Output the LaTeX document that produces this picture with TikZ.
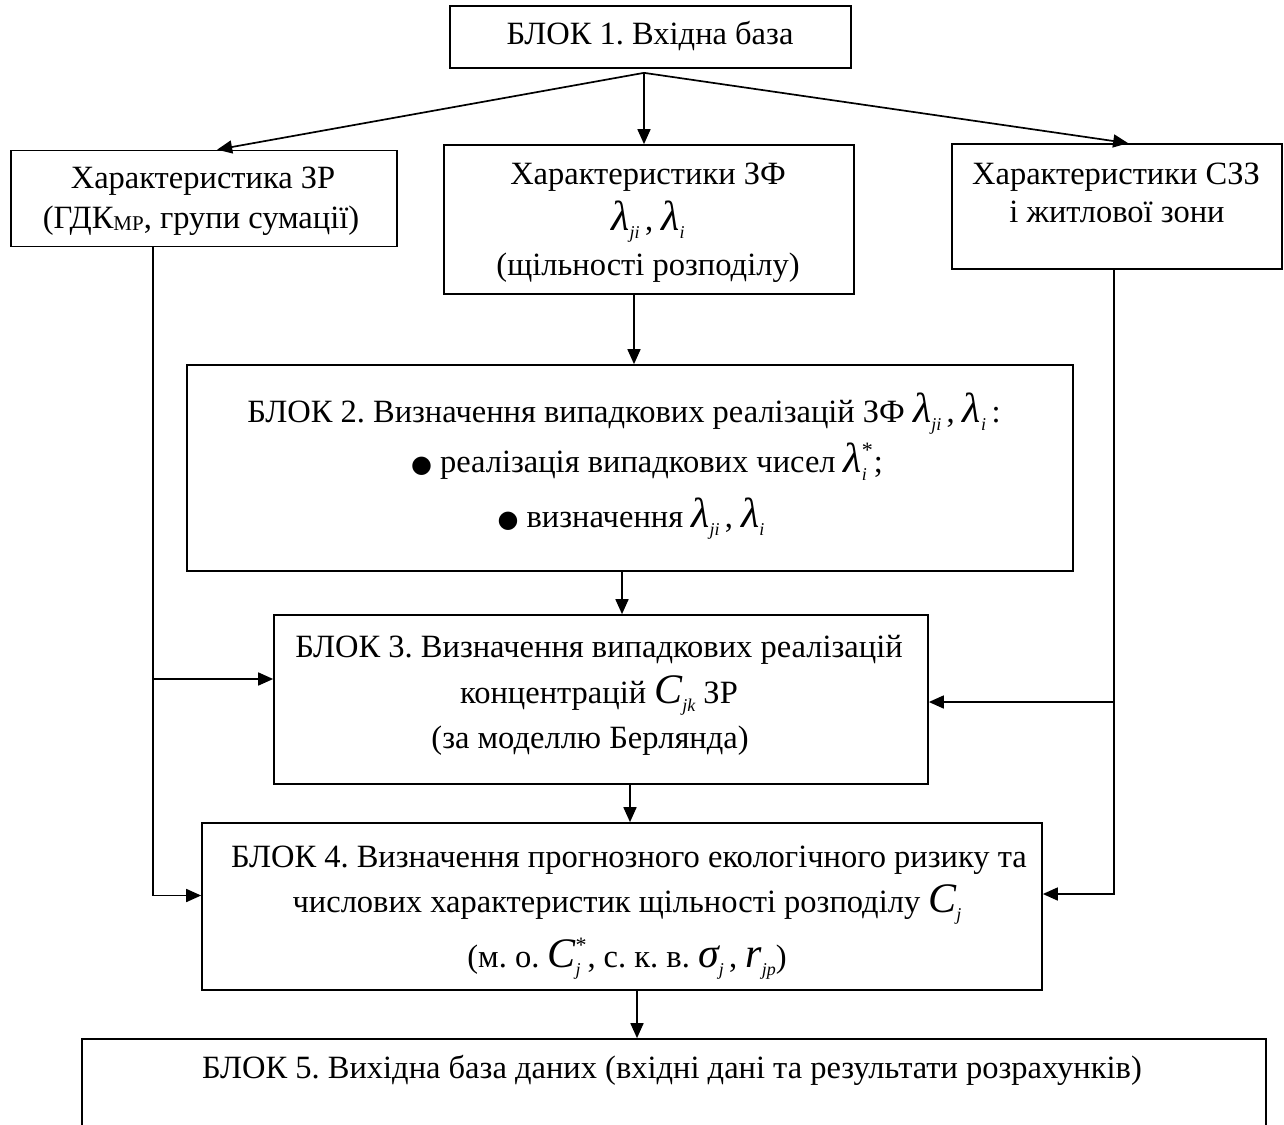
\documentclass[tikz,border=0pt]{standalone}
\usepackage{fontspec}
\setmainfont{Liberation Serif}
\newfontfamily\djfont{DejaVu Sans}
\usetikzlibrary{arrows.meta,calc}
\newcommand\fs{\fontsize{32.5}{38}\selectfont\frenchspacing}
\newcommand\gsym[1]{{\fontsize{42}{42}\selectfont\itshape #1}}
\newcommand\isub[1]{\raisebox{-8pt}{\fontsize{18}{18}\selectfont\itshape #1}}
\newcommand\ssub[2]{\makebox[0pt][l]{\raisebox{15pt}{\fontsize{22}{22}\selectfont #1}}\raisebox{-8pt}{\fontsize{18}{18}\selectfont\itshape #2}\hspace{7pt}}
\newcommand\bul{{\djfont\fontsize{24}{24}\selectfont ●}}
\begin{document}
\begin{tikzpicture}[x=1pt,y=-1pt,
  box/.style={draw, line width=1.7pt, inner sep=0pt},
  txt/.style={inner sep=0pt, anchor=base, font=\fs},
  arr/.style={line width=1.7pt, -{Triangle[length=15pt,width=13pt]}},
  ln/.style={line width=1.7pt}]
\useasboundingbox (0,0) rectangle (1284,1124);
\fill[white] (0,0) rectangle (1284,1124);
\clip (0,0) rectangle (1284,1124);

% boxes
\node[box, minimum width=401pt, minimum height=62pt] (b1) at (650.5,37) {};
\node[box, minimum width=386pt, minimum height=96pt] (zr) at (204,198.5) {};
\node[box, minimum width=410pt, minimum height=149pt] (zf) at (649,219.5) {};
\node[box, minimum width=330pt, minimum height=125pt] (szz) at (1117,206.5) {};
\node[box, minimum width=886pt, minimum height=206pt] (b2) at (630,468) {};
\node[box, minimum width=654pt, minimum height=169pt] (b3) at (601,699.5) {};
\node[box, minimum width=840pt, minimum height=167pt] (b4) at (622,906.5) {};
\node[box, minimum width=1184pt, minimum height=161pt] (b5) at (674,1119.5) {};

% texts
\node[txt] (t1) at (650,45) {БЛОК 1. Вхідна база};
\node[txt] (tzr1) at (203,188) {Характеристика ЗР};
\node[txt] (tzr2) at (201,228) {(ГДК{\fontsize{21}{21}\selectfont\raisebox{-2pt}{МР}}, групи сумації)};
\node[txt] (tzf1) at (648,184) {Характеристики ЗФ};
\node[txt] (tzf2) at (648,230) {\gsym{λ}\isub{ji}\,, \gsym{λ}\isub{i}};
\node[txt] (tzf3) at (648,275) {(щільності розподілу)};
\node[txt] (tsz1) at (1116,184) {Характеристики СЗЗ};
\node[txt] (tsz2) at (1117,222) {і житлової зони};
\node[txt] (t21) at (624,422) {БЛОК 2. Визначення випадкових реалізацій ЗФ \gsym{λ}\isub{ji}\,, \gsym{λ}\isub{i}\,:};
\node[txt] (t22) at (647,472) {\bul\ реалізація випадкових чисел \gsym{λ}\ssub{*}{i};};
\node[txt] (t23) at (631,527) {\bul\ визначення \gsym{λ}\isub{ji}\,, \gsym{λ}\isub{i}};
\node[txt] (t31) at (599,657) {БЛОК 3. Визначення випадкових реалізацій};
\node[txt] (t32) at (599,703) {концентрацій \gsym{C}\isub{jk}\ ЗР};
\node[txt] (t33) at (590,748) {(за моделлю Берлянда)};
\node[txt] (t41) at (629,867) {БЛОК 4. Визначення прогнозного екологічного ризику та};
\node[txt] (t42) at (627,912) {числових характеристик щільності розподілу \gsym{C}\isub{j}};
\node[txt] (t43) at (627,967) {(м. о. \gsym{C}\ssub{*}{j}, с. к. в. \gsym{σ}\isub{j}\,, \gsym{r}\isub{jp})};
\node[txt] (t5) at (672,1078) {БЛОК 5. Вихідна база даних (вхідні дані та результати розрахунків)};

% connectors
\coordinate (fork) at ($(b1.south)+(-6.5,4)$);
\draw[arr] (fork) -- ($(zr.north west)+(207,0)$);
\draw[arr] (fork) -- (fork |- zf.north);
\draw[arr] (fork) -- ($(szz.north west)+(177,0)$);

\coordinate (a1) at ($(zf.south)+(-15,0)$);
\coordinate (a2) at ($(b2.south)+(-8,0)$);
\coordinate (a3) at ($(b3.south)+(29,0)$);
\coordinate (a4) at ($(b4.south)+(15,0)$);
\draw[arr] (a1) -- (a1 |- b2.north);
\draw[arr] (a2) -- (a2 |- b3.north);
\draw[arr] (a3) -- (a3 |- b4.north);
\draw[arr] (a4) -- (a4 |- b5.north);

\coordinate (L1) at ($(zr.south west)+(143,0)$);
\coordinate (b4l) at ($(b4.west)+(0,-11)$);
\coordinate (b3l) at ($(b3.west)+(0,-20.5)$);
\draw[arr] (L1) |- (b4l);
\draw[arr] (L1 |- b3l) -- (b3l);

\coordinate (R1) at ($(szz.south west)+(163,0)$);
\coordinate (b4r) at ($(b4.east)+(0,-12.5)$);
\coordinate (b3r) at ($(b3.east)+(0,2.5)$);
\draw[arr] (R1) |- (b4r);
\draw[arr] (R1 |- b3r) -- (b3r);
\end{tikzpicture}
\end{document}
